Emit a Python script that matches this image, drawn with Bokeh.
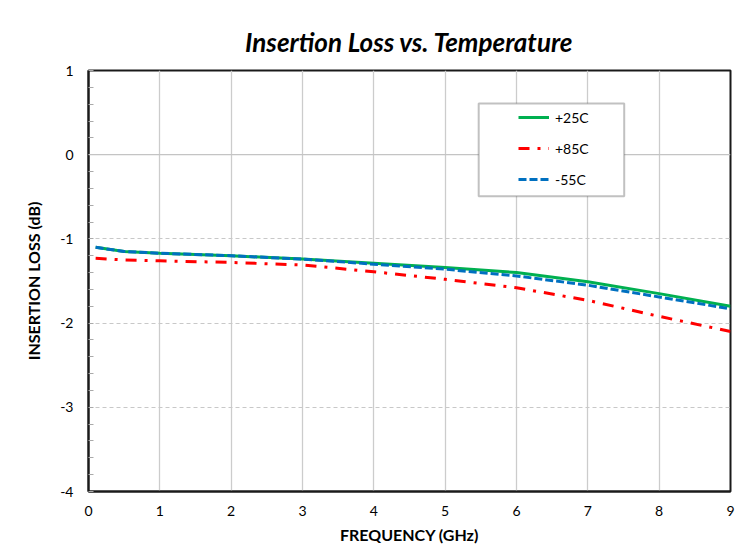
from bokeh.plotting import figure
from bokeh.models import Range1d, FixedTicker, Span, Legend, LegendItem, Title, BoxAnnotation
from bokeh.embed import file_html
from bokeh.resources import INLINE

freq = [0.1, 0.5, 1, 2, 3, 4, 5, 6, 7, 8, 9]
t25 = [-1.10, -1.15, -1.17, -1.20, -1.24, -1.29, -1.34, -1.40, -1.51, -1.65, -1.80]
t85 = [-1.23, -1.25, -1.26, -1.28, -1.31, -1.39, -1.48, -1.58, -1.73, -1.92, -2.10]
tm55 = [-1.10, -1.15, -1.17, -1.20, -1.24, -1.30, -1.36, -1.44, -1.55, -1.69, -1.83]
x_ticks = [0, 1, 2, 3, 4, 5, 6, 7, 8, 9]
y_ticks = [-4, -3, -2, -1, 0, 1]
y_labels = ["-4", "-3", "-2", "-1", "0", "1"]

FONT = "Lato"

p = figure(width=745, height=546, output_backend="svg", toolbar_location=None,
           x_range=Range1d(0, 9), y_range=Range1d(-4, 1),
           min_border_left=88, min_border_right=15, min_border_top=70, min_border_bottom=54)

p.title = Title(text="Insertion Loss vs. Temperature", align="center",
                text_font=FONT, text_font_style="bold italic", text_font_size="26px",
                text_color="#000000", offset=0, standoff=25)

p.outline_line_color = "#1a1a1a"
p.outline_line_width = 2

p.xaxis.ticker = FixedTicker(ticks=x_ticks)
p.yaxis.ticker = FixedTicker(ticks=y_ticks, minor_ticks=[round(-4 + 0.2 * i, 2) for i in range(26)])
p.yaxis.major_label_overrides = {t: s for t, s in zip(y_ticks, y_labels)}
for ax in (p.xaxis[0], p.yaxis[0]):
    ax.axis_line_color = "#1a1a1a"
    ax.axis_line_width = 2
    ax.major_label_text_font = FONT
    ax.major_label_text_font_size = "14px"
    ax.major_label_text_color = "#000000"
    ax.axis_label_text_font = FONT
    ax.axis_label_text_font_style = "bold"
    ax.axis_label_text_font_size = "16px"
    ax.axis_label_text_color = "#000000"
p.xaxis.major_tick_line_color = None
p.xaxis.minor_tick_line_color = None
p.xaxis.major_label_standoff = 8
p.xaxis.axis_label = "FREQUENCY (GHz)"
p.xaxis.axis_label_standoff = 6
p.yaxis.major_tick_in = 0
p.yaxis.major_tick_out = 0
p.yaxis.minor_tick_in = 5
p.yaxis.minor_tick_out = 0
p.yaxis.minor_tick_line_color = "#aaaaaa"
p.yaxis.major_label_standoff = 15
p.yaxis.axis_label = "INSERTION LOSS (dB)"
p.yaxis.axis_label_standoff = 14

p.xgrid.grid_line_color = "#cccccc"
p.xgrid.grid_line_width = 1.3
p.ygrid.grid_line_color = "#c8c8c8"
p.ygrid.grid_line_dash = "4 3"
p.add_layout(Span(location=0, dimension="width", line_color="#c4c4c4", line_width=1.3))

r25 = p.line(freq, t25, line_color="#00b050", line_width=3)
r85 = p.line(freq, t85, line_color="#ff0000", line_width=3, line_dash="11 8 3 8")
rm55 = p.line(freq, tm55, line_color="#0070c0", line_width=3, line_dash="8 3")

# legend frame
p.add_layout(BoxAnnotation(left=5.47, right=7.51, top=0.609, bottom=-0.493,
                           fill_color="white", fill_alpha=1,
                           line_color="#333333", line_width=2, level="overlay"))

legend = Legend(items=[LegendItem(label="+25C", renderers=[r25]),
                       LegendItem(label="+85C", renderers=[r85]),
                       LegendItem(label="-55C", renderers=[rm55])],
                location=(430, 302), border_line_color=None, background_fill_alpha=0,
                padding=0, spacing=11, glyph_width=31, glyph_height=20, label_height=20,
                label_standoff=6, margin=0, label_text_font=FONT, label_text_font_size="14px")
legend.label_text_color = "#000000"
p.add_layout(legend, "center")

open("out.html", "w").write(file_html(p, INLINE))
